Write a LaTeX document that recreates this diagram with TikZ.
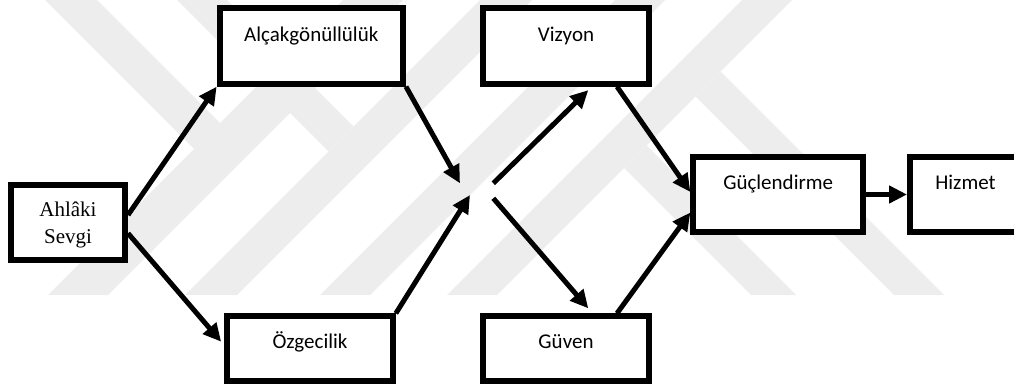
\documentclass[tikz,border=0pt]{standalone}
\usepackage{fontspec}
\setmainfont{Liberation Serif}
\newfontfamily\calfont{Carlito}
\usetikzlibrary{arrows.meta}
\definecolor{wmark}{gray}{0.93}
\begin{document}
\begin{tikzpicture}[x=1pt,y=-1pt,
  box/.style={draw=black, fill=white, line width=6pt, rectangle, inner sep=0pt},
  lbl/.style={anchor=base, inner sep=0pt, font=\calfont\fontsize{21}{25}\selectfont},
  slbl/.style={anchor=base, inner sep=0pt, font=\fontsize{21}{25}\selectfont},
  conn/.style={line width=5pt, -{Triangle[length=18pt,width=17pt]}},
  wm/.style={fill=wmark}]
\useasboundingbox (0,0) rectangle (1014,387);
% faint background watermark bands
\fill[wm] (343,0) -- (403,0) -- (108,295) -- (48,295) -- cycle;
\fill[wm] (45,0) -- (97,0) -- (220,123) -- (194,149) -- cycle;
\fill[wm] (480,0) -- (532,0) -- (237,295) -- (185,295) -- cycle;
\fill[wm] (177,0) -- (227,0) -- (353.5,126.5) -- (328.5,151.5) -- cycle;
\fill[wm] (615,0) -- (665,0) -- (370,295) -- (320,295) -- cycle;
\fill[wm] (742,0) -- (792,0) -- (497,295) -- (447,295) -- cycle;
\fill[wm] (720.5,71.5) -- (944,295) -- (894,295) -- (695.5,96.5) -- cycle;
\fill[wm] (646.5,145.5) -- (796,295) -- (751,295) -- (624,168) -- cycle;
% coordinates for the free ends in the middle
\coordinate (cA) at (460,183.3);
\coordinate (cB) at (470,195);
\coordinate (cC) at (493.3,183.3);
\coordinate (cD) at (493.3,198.3);
% boxes
\node[box, minimum width=114pt, minimum height=75pt] (ahl) at (68,222.5) {};
\node[box, minimum width=183.3pt, minimum height=75.7pt] (alc) at (311.3,45.8) {};
\node[box, minimum width=165.7pt, minimum height=64.7pt] (ozg) at (310,348.7) {};
\node[box, minimum width=166pt, minimum height=75.7pt] (viz) at (566,45.8) {};
\node[box, minimum width=166pt, minimum height=64.7pt] (guv) at (566,348.7) {};
\node[box, minimum width=169.7pt, minimum height=75pt] (guc) at (778.2,194.5) {};
\node[box, minimum width=111pt, minimum height=75pt] (hiz) at (965.5,194.5) {};
% texts
\node[slbl] (ahlT1) at (68,216.7) {Ahlâki};
\node[slbl] (ahlT2) at (68,243.3) {Sevgi};
\node[lbl] (alcT) at (311.3,41.7) {Alçakgönüllülük};
\node[lbl] (ozgT) at (310,348.3) {Özgecilik};
\node[lbl] (vizT) at (566,41.7) {Vizyon};
\node[lbl] (guvT) at (566,348.3) {Güven};
\node[lbl] (gucT) at (778.2,189.3) {Güçlendirme};
\node[lbl] (hizT) at (965.5,189.3) {Hizmet};
% connectors
\draw[conn] ([yshift=7.5pt]ahl.east) -- (alc.south west);
\draw[conn] ([yshift=-10.8pt]ahl.east) -- ([xshift=-3pt,yshift=7pt]ozg.west);
\draw[conn] (alc.south east) -- (cA);
\draw[conn] (ozg.north east) -- (cB);
\draw[conn] (cC) -- ([xshift=22.3pt,yshift=-3.5pt]viz.south);
\draw[conn] (cD) -- ([xshift=22.3pt,yshift=5pt]guv.north);
\draw[conn] ([xshift=51pt]viz.south) -- ([yshift=2.5pt]guc.west);
\draw[conn] ([xshift=51pt]guv.north) -- ([yshift=-18pt]guc.west);
\draw[conn] (guc.east) -- (hiz.west);
\end{tikzpicture}
\end{document}
